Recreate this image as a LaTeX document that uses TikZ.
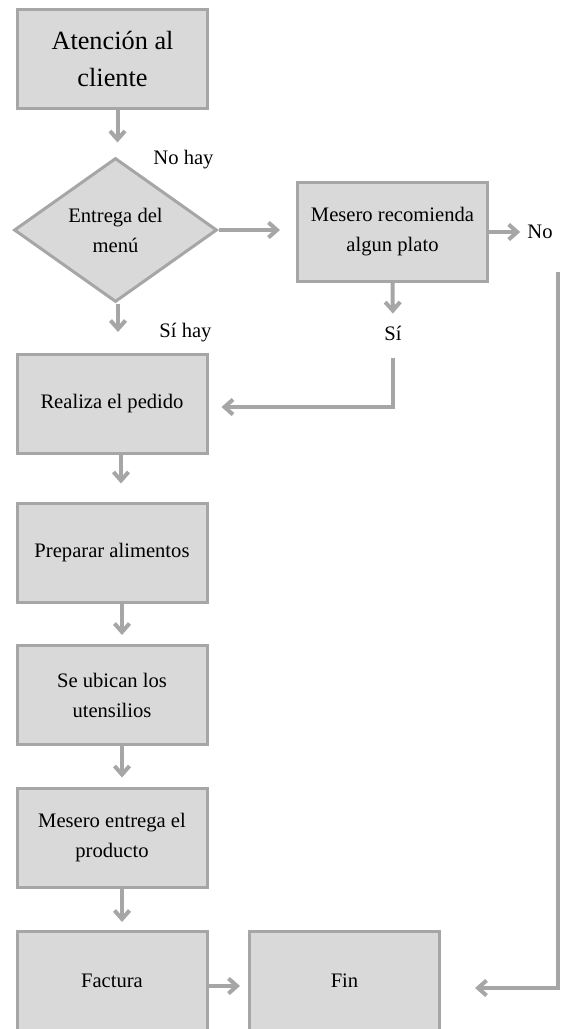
\documentclass[tikz,border=0pt]{standalone}
\usepackage{fontspec}
\setmainfont{Liberation Serif}
\usetikzlibrary{shapes.geometric,arrows.meta}
\definecolor{linegray}{HTML}{A6A6A6}
\definecolor{boxgray}{HTML}{D9D9D9}
\begin{document}
\begin{tikzpicture}[x=1pt,y=-1pt,
  box/.style={draw=linegray, fill=boxgray, line width=3pt, minimum width=190pt,
    minimum height=99pt, inner sep=0pt, align=center,
    font=\fontsize{20.6}{30}\selectfont},
  decision/.style={diamond, draw=linegray, fill=boxgray, line width=3pt,
    minimum width=203pt, minimum height=144pt, inner sep=0pt, align=center,
    font=\fontsize{20.6}{30}\selectfont},
  lbl/.style={inner sep=0pt, font=\fontsize{20.6}{30}\selectfont},
  arr/.style={draw=linegray, line width=4pt,
    -{Straight Barb[length=8.5pt,width=15pt]}}]
\useasboundingbox (0,0) rectangle (566,1029);

% process steps
\node[box, font=\fontsize{26.3}{37}\selectfont] (att) at (112.5,59) {Atención al\\cliente};
\node[decision] (menu) at (115.5,230) {Entrega del\\menú};
\node[box] (rec) at (392.5,232) {Mesero recomienda\\algun plato};
\node[box] (ped) at (112,404) {Realiza el pedido};
\node[box] (prep) at (112,552.5) {Preparar alimentos};
\node[box] (ut) at (112,695) {Se ubican los\\utensilios};
\node[box] (ent) at (112,837.5) {Mesero entrega el\\producto};
\node[box] (fac) at (112,981) {Factura};
\node[box] (fin) at (344.5,981) {Fin};

% branch labels
\node[lbl] (nohay) at (183.5,160) {No hay};
\node[lbl] (sihay) at (185.5,333) {Sí hay};
\node[lbl] (no) at (540,232) {No};
\node[lbl] (si) at (393,333) {Sí};
\coordinate (rtop) at (558,272);

% connectors
\draw[arr, shorten >=14pt] ([xshift=5pt]att.south) -- ([xshift=5pt]att.south |- menu.north);
\draw[arr, shorten >=16pt] (menu.east) -- (rec.west |- menu.east);
\draw[arr, shorten >=7pt] (rec.east) -- (no.west);
\draw[arr, shorten >=12pt] (rec.south) -- (si.north);
\draw[arr, shorten >=13pt] ([yshift=-18pt]si.south) |- ([yshift=-3pt]ped.east);
\draw[arr, shorten >=21pt] ([xshift=2.5pt]menu.south) -- ([xshift=2.5pt]menu.south |- ped.north);
\draw[arr, shorten >=18pt] ([xshift=9pt]ped.south) -- ([xshift=9pt]ped.south |- prep.north);
\draw[arr, shorten >=9pt] ([xshift=10pt]prep.south) -- ([xshift=10pt]prep.south |- ut.north);
\draw[arr, shorten >=9pt] ([xshift=10pt]ut.south) -- ([xshift=10pt]ut.south |- ent.north);
\draw[arr, shorten >=8pt] ([xshift=10pt]ent.south) -- ([xshift=10pt]ent.south |- fac.north);
\draw[arr, shorten >=8pt] ([yshift=-5pt]fac.east) -- ([yshift=-5pt]fin.west);
\draw[arr, shorten >=34pt] (rtop) |- ([yshift=-7pt]fin.east);
\end{tikzpicture}
\end{document}
